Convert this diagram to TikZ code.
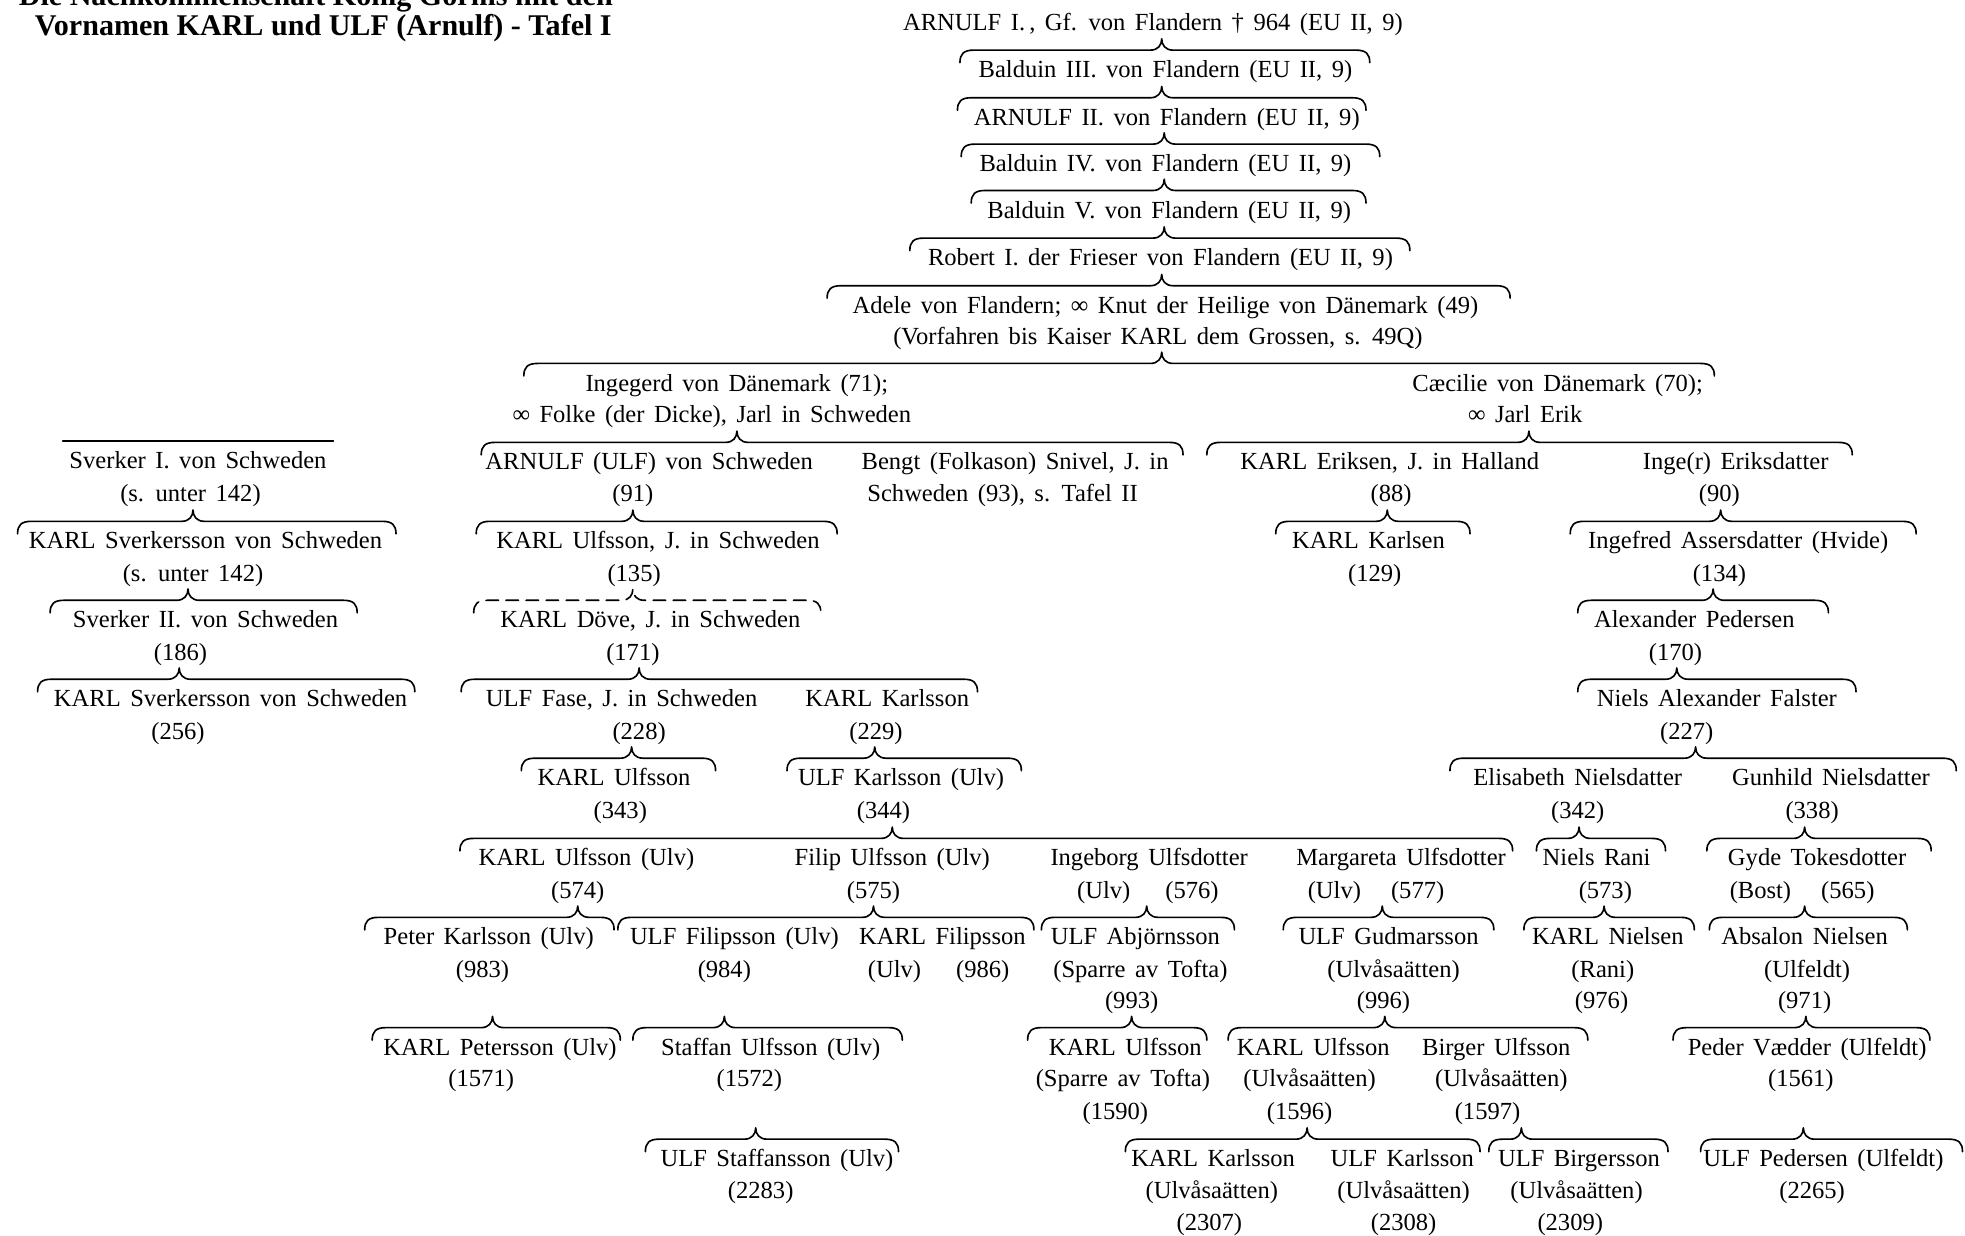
\documentclass[tikz,border=0pt]{standalone}
\usepackage{fontspec}
\setmainfont{Liberation Serif}[WordSpace={1.55}]
\newfontfamily\titlefont{Liberation Serif}
\tikzset{
  txt/.style={anchor=base, inner sep=0pt, font=\fontsize{19.6}{23}\selectfont},
  ttl/.style={anchor=base, inner sep=0pt, font=\titlefont\bfseries\fontsize{24}{28}\selectfont},
  br/.style={line width=1.3pt, line cap=round, line join=round},
  dbr/.style={dash pattern=on 10pt off 6pt},
}
% #2 left end, #3 tip x, #4 right end, #5 tip y
\newcommand\kinbrace[5][]{\draw[br,#1] (#2,#5+19) .. controls (#2,#5+12) and (#2+3,#5+9) .. (#2+11,#5+9) -- (#3-9,#5+9) .. controls (#3-3,#5+9) and (#3,#5+5) .. (#3,#5) .. controls (#3,#5+5) and (#3+3,#5+9) .. (#3+9,#5+9) -- (#4-11,#5+9) .. controls (#4-3,#5+9) and (#4,#5+12) .. (#4,#5+19);}
\newcommand\tl[4]{\node[txt] (#1) at (#2,#3+6) {#4};}
\begin{document}
\begin{tikzpicture}[x=1pt,y=-1pt]
\useasboundingbox (0,0) rectangle (1568,986);
\fill[white] (0,0) rectangle (1568,986);
% title
\node[ttl] (title1) at (252,4) {Die Nachkommenschaft König Gorms mit den};
\node[ttl] (title2) at (258,28) {Vornamen KARL und ULF (Arnulf) - Tafel I};
% top chain
\tl{a1}{920}{18}{ARNULF I.\,, Gf. von Flandern † 964 (EU II, 9)}
\kinbrace{766}{927}{1093}{31}
\tl{a2}{930}{56}{Balduin III. von Flandern (EU II, 9)}
\kinbrace{764}{927}{1090}{69}
\tl{a3}{931}{94}{ARNULF II. von Flandern (EU II, 9)}
\kinbrace{767}{929}{1101}{106}
\tl{a4}{930}{131}{Balduin IV. von Flandern (EU II, 9)}
\kinbrace{775}{929}{1090}{143}
\tl{a5}{933}{168}{Balduin V. von Flandern (EU II, 9)}
\kinbrace{726}{929}{1125}{181}
\tl{a6}{926}{206}{Robert I. der Frieser von Flandern (EU II, 9)}
\kinbrace{660}{927}{1205}{219}
\tl{a7}{930}{244}{Adele von Flandern; ∞ Knut der Heilige von Dänemark (49)}
\tl{a7b}{924}{269}{(Vorfahren bis Kaiser KARL dem Grossen, s. 49Q)}
\kinbrace{418}{927}{1368}{281}
\tl{ing1}{588}{306}{Ingegerd von Dänemark (71);}
\tl{ing2}{568}{331}{∞ Folke (der Dicke), Jarl in Schweden}
\tl{cae1}{1243}{306}{Cæcilie von Dänemark (70);}
\tl{cae2}{1217}{331}{∞ Jarl Erik}
% children of Ingegerd and Caecilie
\kinbrace{384}{588}{944}{344}
\kinbrace{963}{1220}{1478}{344}
\tl{arn}{518}{369}{ARNULF (ULF) von Schweden}
\tl{n91}{505}{394}{(91)}
\tl{bengt1}{810}{369}{Bengt (Folkason) Snivel, J. in}
\tl{bengt2}{800}{394}{Schweden (93), s. Tafel II}
\tl{kerik}{1109}{369}{KARL Eriksen, J. in Halland}
\tl{n88}{1110}{394}{(88)}
\tl{inger}{1385}{369}{Inge(r) Eriksdatter}
\tl{n90}{1372}{394}{(90)}
% Sverker line
\draw[br] (50,352) -- (266,352);
\tl{sv1}{158}{368}{Sverker I. von Schweden}
\tl{sv1n}{152}{394}{(s. unter 142)}
\kinbrace{14}{154}{316}{407}
\tl{sv2}{164}{432}{KARL Sverkersson von Schweden}
\tl{sv2n}{154}{458}{(s. unter 142)}
\kinbrace{40}{150}{285}{470}
\tl{sv3}{164}{495}{Sverker II. von Schweden}
\tl{sv3n}{144}{521}{(186)}
\kinbrace{30}{143}{331}{533}
\tl{sv4}{184}{558}{KARL Sverkersson von Schweden}
\tl{sv4n}{142}{584}{(256)}
% Ulv line
\kinbrace{380}{505}{668}{407}
\tl{n135a}{525}{432}{KARL Ulfsson, J. in Schweden}
\tl{n135}{506}{458}{(135)}
\kinbrace[dbr]{378}{505}{655}{470}
\tl{n171a}{519}{495}{KARL Döve, J. in Schweden}
\tl{n171}{505}{521}{(171)}
\kinbrace{368}{510}{780}{533}
\tl{n228a}{496}{558}{ULF Fase, J. in Schweden}
\tl{n228}{510}{584}{(228)}
\tl{n229a}{708}{558}{KARL Karlsson}
\tl{n229}{699}{584}{(229)}
\kinbrace{416}{504}{571}{596}
\tl{n343a}{490}{621}{KARL Ulfsson}
\tl{n343}{495}{647}{(343)}
\kinbrace{628}{698}{815}{596}
\tl{n344a}{719}{621}{ULF Karlsson (Ulv)}
\tl{n344}{705}{647}{(344)}
\kinbrace{367}{712}{1207}{660}
\tl{n574a}{468}{685}{KARL Ulfsson (Ulv)}
\tl{n574}{461}{711}{(574)}
\tl{n575a}{712}{685}{Filip Ulfsson (Ulv)}
\tl{n575}{697}{711}{(575)}
\tl{n576a}{917}{685}{Ingeborg Ulfsdotter}
\tl{n576}{916}{711}{(Ulv)\hspace{28pt}(576)}
\tl{n577a}{1118}{685}{Margareta Ulfsdotter}
\tl{n577}{1098}{711}{(Ulv)\hspace{24pt}(577)}
% Erik line
\kinbrace{1018}{1107}{1173}{407}
\tl{n129a}{1092}{432}{KARL Karlsen}
\tl{n129}{1097}{458}{(129)}
\kinbrace{1253}{1373}{1529}{407}
\tl{n134a}{1387}{432}{Ingefred Assersdatter (Hvide)}
\tl{n134}{1372}{458}{(134)}
\kinbrace{1259}{1367}{1459}{470}
\tl{n170a}{1352}{495}{Alexander Pedersen}
\tl{n170}{1337}{521}{(170)}
\kinbrace{1259}{1338}{1481}{533}
\tl{n227a}{1370}{558}{Niels Alexander Falster}
\tl{n227}{1346}{584}{(227)}
\kinbrace{1157}{1353}{1561}{596}
\tl{n342a}{1259}{621}{Elisabeth Nielsdatter}
\tl{n342}{1259}{647}{(342)}
\tl{n338a}{1461}{621}{Gunhild Nielsdatter}
\tl{n338}{1446}{647}{(338)}
\kinbrace{1226}{1260}{1329}{660}
\tl{n573a}{1274}{685}{Niels Rani}
\tl{n573}{1281}{711}{(573)}
\kinbrace{1362}{1440}{1541}{660}
\tl{n565a}{1450}{685}{Gyde Tokesdotter}
\tl{n565}{1438}{711}{(Bost)\hspace{24pt}(565)}
% generation 9
\kinbrace{291}{461}{490}{723}
\tl{n983a}{390}{748}{Peter Karlsson (Ulv)}
\tl{n983}{385}{774}{(983)}
\kinbrace{493}{697}{825}{723}
\tl{n984a}{586}{748}{ULF Filipsson (Ulv)}
\tl{n984}{578}{774}{(984)}
\tl{n986a}{752}{748}{KARL Filipsson}
\tl{n986}{749}{774}{(Ulv)\hspace{28pt}(986)}
\kinbrace{831}{915}{985}{723}
\tl{n993a}{906}{748}{ULF Abjörnsson}
\tl{n993b}{910}{774}{(Sparre av Tofta)}
\tl{n993}{903}{799}{(993)}
\kinbrace{1024}{1103}{1192}{723}
\tl{n996a}{1108}{748}{ULF Gudmarsson}
\tl{n996b}{1112}{774}{(Ulvåsaätten)}
\tl{n996}{1104}{799}{(996)}
\kinbrace{1216}{1280}{1352}{723}
\tl{n976a}{1283}{748}{KARL Nielsen}
\tl{n976b}{1279}{774}{(Rani)}
\tl{n976}{1278}{799}{(976)}
\kinbrace{1364}{1440}{1522}{723}
\tl{n971a}{1440}{748}{Absalon Nielsen}
\tl{n971b}{1442}{774}{(Ulfeldt)}
\tl{n971}{1440}{799}{(971)}
% generation 10
\kinbrace{297}{393}{495}{811}
\tl{n1571a}{399}{836}{KARL Petersson (Ulv)}
\tl{n1571}{384}{861}{(1571)}
\kinbrace{505}{578}{720}{811}
\tl{n1572a}{615}{836}{Staffan Ulfsson (Ulv)}
\tl{n1572}{598}{861}{(1572)}
\kinbrace{820}{903}{963}{811}
\tl{n1590a}{898}{836}{KARL Ulfsson}
\tl{n1590b}{896}{861}{(Sparre av Tofta)}
\tl{n1590}{890}{887}{(1590)}
\kinbrace{980}{1105}{1267}{811}
\tl{n1596a}{1048}{836}{KARL Ulfsson}
\tl{n1596b}{1045}{861}{(Ulvåsaätten)}
\tl{n1596}{1037}{887}{(1596)}
\tl{n1597a}{1194}{836}{Birger Ulfsson}
\tl{n1597b}{1198}{861}{(Ulvåsaätten)}
\tl{n1597}{1187}{887}{(1597)}
\kinbrace{1335}{1441}{1540}{811}
\tl{n1561a}{1442}{836}{Peder Vædder (Ulfeldt)}
\tl{n1561}{1437}{861}{(1561)}
% generation 11
\kinbrace{515}{603}{717}{900}
\tl{n2283a}{620}{925}{ULF Staffansson (Ulv)}
\tl{n2283}{607}{950}{(2283)}
\kinbrace{898}{1043}{1181}{900}
\tl{n2307a}{968}{925}{KARL Karlsson}
\tl{n2307b}{967}{950}{(Ulvåsaätten)}
\tl{n2307}{965}{976}{(2307)}
\tl{n2308a}{1119}{925}{ULF Karlsson}
\tl{n2308b}{1120}{950}{(Ulvåsaätten)}
\tl{n2308}{1120}{976}{(2308)}
\kinbrace{1188}{1214}{1331}{900}
\tl{n2309a}{1260}{925}{ULF Birgersson}
\tl{n2309b}{1258}{950}{(Ulvåsaätten)}
\tl{n2309}{1253}{976}{(2309)}
\kinbrace{1357}{1439}{1566}{900}
\tl{n2265a}{1455}{925}{ULF Pedersen (Ulfeldt)}
\tl{n2265}{1446}{950}{(2265)}
\end{tikzpicture}
\end{document}
